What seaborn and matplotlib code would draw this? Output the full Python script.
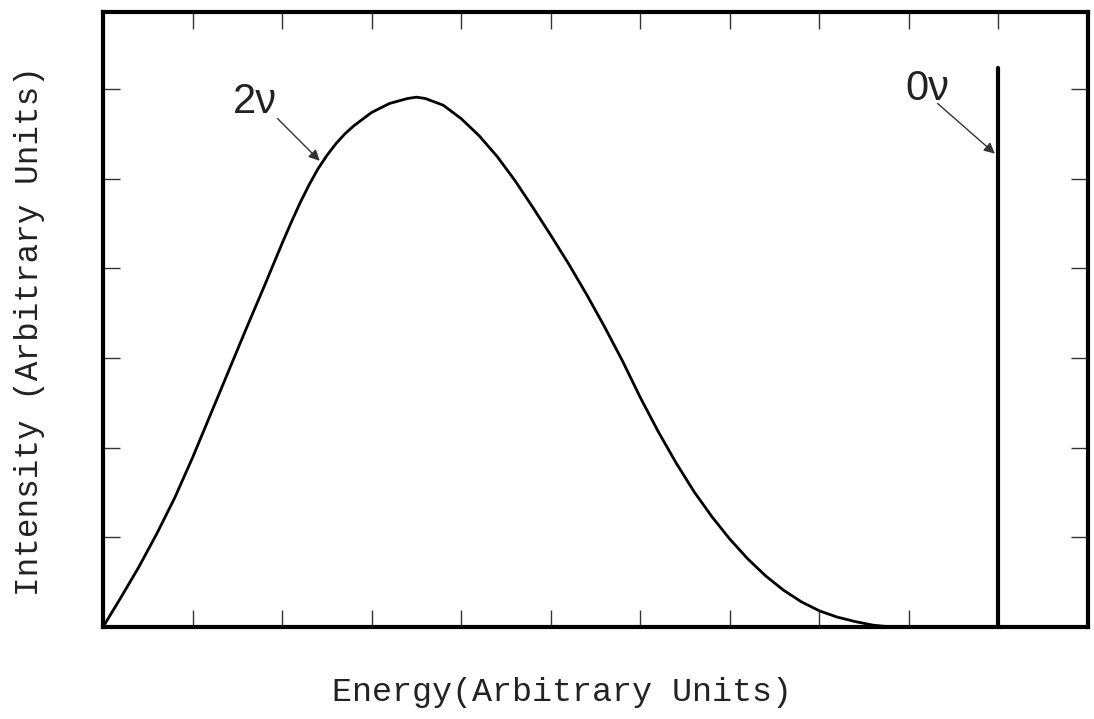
import matplotlib
matplotlib.use("Agg")
import matplotlib.pyplot as plt
import seaborn as sns
import pandas as pd

# ---- data (arbitrary units) ----
energy = [0.0, 0.2, 0.4, 0.6, 0.8, 1.0, 1.2, 1.4, 1.6, 1.8, 2.0, 2.1, 2.2, 2.3,
          2.4, 2.5, 2.6, 2.7, 2.8, 3.0, 3.2, 3.4, 3.5, 3.6, 3.8, 4.0, 4.2, 4.4,
          4.6, 4.8, 5.0, 5.2, 5.4, 5.6, 5.8, 6.0, 6.2, 6.4, 6.6, 6.8, 7.0, 7.2,
          7.4, 7.6, 7.8, 8.0, 8.2, 8.4, 8.6, 8.8]
intensity = [0.0, 0.33, 0.67, 1.04, 1.44, 1.89, 2.37, 2.85, 3.33, 3.80, 4.28, 4.51,
             4.73, 4.93, 5.11, 5.26, 5.39, 5.50, 5.59, 5.74, 5.84, 5.895, 5.91, 5.895,
             5.82, 5.67, 5.48, 5.25, 4.98, 4.68, 4.37, 4.05, 3.71, 3.35, 2.97, 2.56,
             2.18, 1.83, 1.51, 1.23, 0.98, 0.76, 0.57, 0.41, 0.28, 0.18, 0.11, 0.06,
             0.02, 0.0]

peak_energy = [10.0, 10.0]
peak_intensity = [0.0, 6.23]

x_ticks = [1, 2, 3, 4, 5, 6, 7, 8, 9, 10]
y_ticks = [1, 2, 3, 4, 5, 6]

label_2v = "2\u03bd"
label_0v = "0\u03bd"
x_label = "Energy(Arbitrary Units)"
y_label = "Intensity (Arbitrary Units)"

# ---- plotting ----
sns.set_style("ticks")
plt.rcParams["font.family"] = ["Liberation Sans", "DejaVu Sans"]

fig = plt.figure(figsize=(10.94, 7.19), dpi=100)
ax = fig.add_axes([0.0942, 0.128, 0.9003, 0.8553])

df = pd.DataFrame({"energy": energy, "intensity": intensity})
sns.lineplot(data=df, x="energy", y="intensity", ax=ax, color="black",
             linewidth=2.0, sort=False, estimator=None)
df0 = pd.DataFrame({"energy": peak_energy, "intensity": peak_intensity})
sns.lineplot(data=df0, x="energy", y="intensity", ax=ax, color="black",
             linewidth=3.0, sort=False, estimator=None)

ax.set_xlim(0, 11)
ax.set_ylim(0, 6.86)
ax.set_xticks(x_ticks)
ax.set_yticks(y_ticks)
ax.set_xticklabels([])
ax.set_yticklabels([])
ax.tick_params(direction="in", length=12, width=1.0, color="#333333",
               top=True, right=True, bottom=True, left=True)
for s in ax.spines.values():
    s.set_linewidth(3.0)
    s.set_color("black")

mono = ["Liberation Mono", "DejaVu Sans Mono"]
ax.set_xlabel(x_label, fontsize=24, family=mono, color="#222222")
ax.set_ylabel(y_label, fontsize=23.5, family=mono, color="#222222")
ax.xaxis.label.set_va("center")
ax.yaxis.label.set_va("center")
ax.xaxis.set_label_coords(0.466, -0.107)
ax.yaxis.set_label_coords(-0.075, 0.481)

ax.text(1.45, 5.73, label_2v, fontsize=30, va="baseline", ha="left",
        family=["Liberation Sans", "DejaVu Sans"], color="#222222")
ax.text(8.96, 5.88, label_0v, fontsize=30, va="baseline", ha="left",
        family=["Liberation Sans", "DejaVu Sans"], color="#222222")

arrow = dict(arrowstyle="-|>", color="#333333", lw=1.0, mutation_scale=16,
             shrinkA=0, shrinkB=0)
ax.annotate("", xy=(2.42, 5.2), xytext=(1.95, 5.67), arrowprops=arrow)
ax.annotate("", xy=(9.96, 5.28), xytext=(9.32, 5.84), arrowprops=arrow)

fig.savefig("out.png", dpi=100)
